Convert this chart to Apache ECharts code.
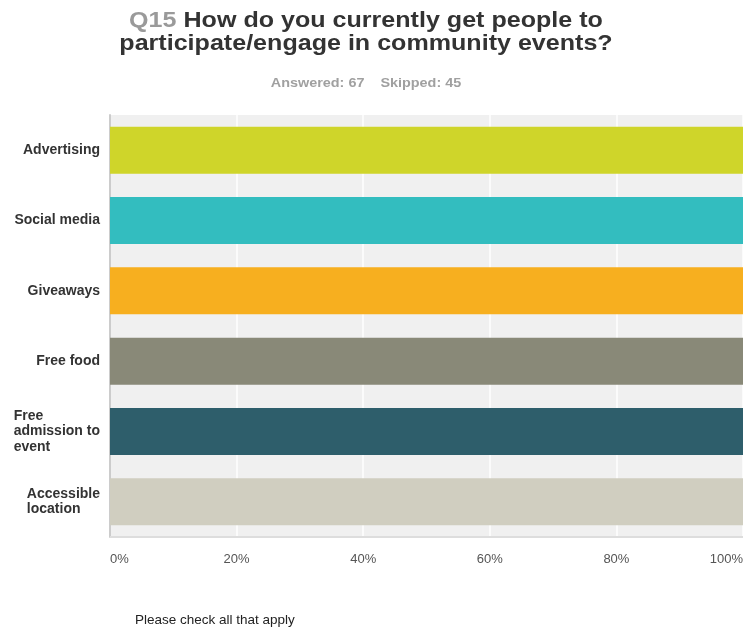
<!DOCTYPE html>
<html>
<head>
<meta charset="utf-8">
<style>
  html, body { margin: 0; padding: 0; background: #fff; }
  #chart { width: 750px; height: 628px; }
</style>
<script src="https://cdn.jsdelivr.net/npm/echarts@6/dist/echarts.min.js"></script>
</head>
<body>
<div id="chart"></div>
<script>
// Response options, top to bottom
const categories = [
  'Advertising',
  'Social media',
  'Giveaways',
  'Free food',
  'Free\nadmission to\nevent',
  'Accessible\nlocation'
];
// Share of respondents choosing each option (%)
const responseShare = [100, 100, 100, 100, 100, 100];
const barColors = ['#CFD52A', '#33BDBF', '#F7AF1F', '#898978', '#2E5E6B', '#D0CEC0'];
const xTicks = [0, 20, 40, 60, 80, 100];

const chart = echarts.init(document.getElementById('chart'));
const FONT = '"Liberation Sans", Arial, Helvetica, sans-serif';

chart.setOption({
  animation: false,
  backgroundColor: '#ffffff',
  title: [
    {
      text: 'Please check all that apply',
      left: 135,
      top: 613,
      padding: 0,
      textStyle: { fontFamily: FONT, fontSize: 13.5, fontWeight: 'normal', color: '#222222' }
    }
  ],
  grid: {
    left: 110,
    right: 7,
    top: 115,
    bottom: 91,
    show: true,
    backgroundColor: '#f0f0f0',
    borderWidth: 0
  },
  xAxis: {
    type: 'value',
    min: 0,
    max: 100,
    interval: 20,
    axisLine: { show: false },
    axisTick: { show: false },
    splitLine: { show: true, lineStyle: { color: '#ffffff', width: 1.5 } },
    axisLabel: {
      margin: 16,
      fontFamily: FONT,
      fontSize: 13,
      color: '#555555',
      alignMinLabel: 'left',
      alignMaxLabel: 'right',
      formatter: function (v) { return xTicks.indexOf(v) >= 0 ? v + '%' : ''; }
    }
  },
  yAxis: {
    type: 'category',
    inverse: true,
    data: categories,
    axisLine: { show: true, lineStyle: { color: '#cccccc', width: 2 } },
    axisTick: { show: false },
    splitLine: { show: false },
    axisLabel: {
      margin: 10,
      align: 'right',
      fontFamily: FONT,
      fontSize: 14,
      fontWeight: 'bold',
      color: '#333333',
      lineHeight: 15.5,
      formatter: function (v) {
        return v.split('\n').map(function (s) { return '{l|' + s + '}'; }).join('\n');
      },
      rich: {
        l: { fontFamily: FONT, fontSize: 14, fontWeight: 'bold', color: '#333333', lineHeight: 15.5, align: 'left' }
      }
    }
  },
  series: [
    {
      type: 'bar',
      data: responseShare.map(function (v, i) {
        return { value: v, itemStyle: { color: barColors[i] } };
      }),
      barWidth: 47,
      silent: true
    }
  ],
  graphic: [
    // Question heading, set in a slightly wide bold face
    {
      type: 'text',
      x: 366,
      y: 32,
      scaleX: 1.14,
      silent: true,
      style: {
        text: '{q|Q15} How do you currently get people to\nparticipate/engage in community events?',
        align: 'center',
        verticalAlign: 'middle',
        fontFamily: FONT,
        fontSize: 22,
        fontWeight: 'bold',
        fill: '#333333',
        lineHeight: 23,
        rich: {
          q: { fontFamily: FONT, fontSize: 22, fontWeight: 'bold', fill: '#9a9a9a', lineHeight: 23 }
        }
      }
    },
    // Response counts
    {
      type: 'text',
      x: 366,
      y: 84,
      scaleX: 1.2,
      silent: true,
      style: {
        text: 'Answered: 67    Skipped: 45',
        align: 'center',
        verticalAlign: 'middle',
        fontFamily: FONT,
        fontSize: 12,
        fontWeight: 'bold',
        fill: '#a0a0a0'
      }
    },
    // Baseline under the plot area
    {
      type: 'rect',
      shape: { x: 110, y: 536, width: 633, height: 2 },
      style: { fill: '#dddddd' },
      z: 10
    }
  ]
});
</script>
</body>
</html>
